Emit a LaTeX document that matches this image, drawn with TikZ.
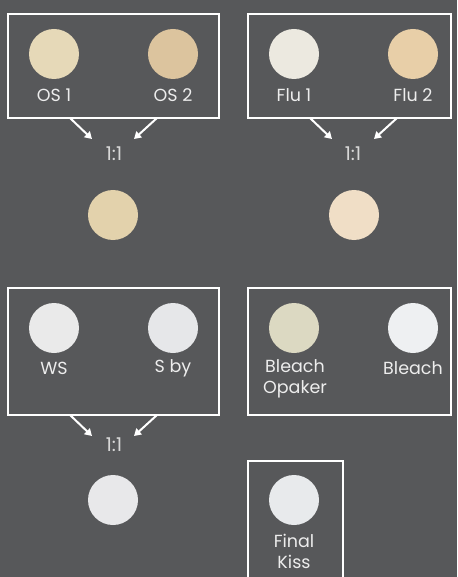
\documentclass[tikz,border=0pt]{standalone}
\usepackage{fontspec}
\setmainfont{Poppins}
\usetikzlibrary{arrows.meta}
\definecolor{bg}{HTML}{57585A}
\definecolor{txt}{HTML}{EDEDED}
\definecolor{rtxt}{HTML}{D8D8D8}
\definecolor{cOSa}{HTML}{E6D9B8}
\definecolor{cOSb}{HTML}{DCC49E}
\definecolor{cOSm}{HTML}{E3D2AC}
\definecolor{cFLa}{HTML}{ECE9E0}
\definecolor{cFLb}{HTML}{E8CFA8}
\definecolor{cFLm}{HTML}{F0DEC6}
\definecolor{cWS}{HTML}{EAEAEA}
\definecolor{cSby}{HTML}{E6E7E9}
\definecolor{cWm}{HTML}{E8E8EA}
\definecolor{cBO}{HTML}{DCD9C2}
\definecolor{cBL}{HTML}{EEF0F2}
\definecolor{cFK}{HTML}{E8EAEC}
\tikzset{
  swatch/.style={circle,minimum size=50pt,inner sep=0pt},
  lbl/.style={text=txt,font=\fontsize{17.5}{21}\selectfont,align=center,inner sep=0pt},
  ratio/.style={text=rtxt,font=\fontsize{19}{22}\selectfont,inner sep=1pt},
  frame/.style={draw=white,line width=1.5pt},
  mixarrow/.style={draw=white,line width=2pt,-{Triangle[length=7pt,width=8pt]}}
}
\begin{document}
\begin{tikzpicture}[x=1pt,y=-1pt]
\fill[bg] (0,0) rectangle (457,577);
\useasboundingbox (0,0) rectangle (457,577);
% Box 1
\draw[frame] (8,14) rectangle (219,118);
\node[swatch,fill=cOSa] (os1) at (54,54) {};
\node[swatch,fill=cOSb] (os2) at (173,54) {};
\node[lbl] (los1) at (54,95) {OS 1};
\node[lbl] (los2) at (173,95) {OS 2};
\coordinate (a1s) at (70,118); \coordinate (a2s) at (157,118);
\node[ratio] (r1) at (114,154) {1:1};
\draw[mixarrow] (a1s) -- (92,139);
\draw[mixarrow] (a2s) -- (134,139);
\node[swatch,fill=cOSm] (osm) at (113,215) {};
% Box 2
\draw[frame] (248,14) rectangle (451,118);
\node[swatch,fill=cFLa] (fl1) at (294,54) {};
\node[swatch,fill=cFLb] (fl2) at (413,54) {};
\node[lbl] (lfl1) at (294,95) {Flu 1};
\node[lbl] (lfl2) at (413,95) {Flu 2};
\coordinate (b1s) at (310,118); \coordinate (b2s) at (397,118);
\node[ratio] (r2) at (353,154) {1:1};
\draw[mixarrow] (b1s) -- (332,139);
\draw[mixarrow] (b2s) -- (374,139);
\node[swatch,fill=cFLm] (flm) at (354,215) {};
% Box 3
\draw[frame] (8,288) rectangle (219,415);
\node[swatch,fill=cWS] (ws) at (54,328) {};
\node[swatch,fill=cSby] (sby) at (173,328) {};
\node[lbl] (lws) at (54,368) {WS};
\node[lbl] (lsby) at (173,368) {S by};
\coordinate (c1s) at (70,415); \coordinate (c2s) at (157,415);
\node[ratio] (r3) at (114,445) {1:1};
\draw[mixarrow] (c1s) -- (92,436);
\draw[mixarrow] (c2s) -- (134,436);
\node[swatch,fill=cWm] (wm) at (113,500) {};
% Box 4
\draw[frame] (248,288) rectangle (451,415);
\node[swatch,fill=cBO] (bo) at (294,328) {};
\node[swatch,fill=cBL] (bl) at (413,328) {};
\node[lbl] (lbo) at (295,378.5) {Bleach\\Opaker};
\node[lbl] (lbl) at (413,368) {Bleach};
% Box 5
\draw[frame] (248,461) rectangle (343,580);
\node[swatch,fill=cFK] (fk) at (294,500) {};
\node[lbl] (lfk) at (294,551) {Final\\Kiss};
\end{tikzpicture}
\end{document}
